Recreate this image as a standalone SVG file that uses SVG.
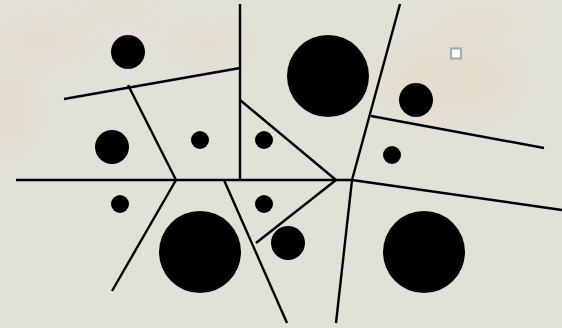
<svg xmlns="http://www.w3.org/2000/svg" width="562" height="328" viewBox="0 0 562 328">
<defs>
<style>
.l{stroke:#000;stroke-width:2.4;fill:none;stroke-linecap:butt}
.d{fill:#000}
</style>
<filter id="b" x="-50%" y="-50%" width="200%" height="200%"><feGaussianBlur stdDeviation="14"/></filter>
<filter id="s" x="-50%" y="-50%" width="200%" height="200%"><feGaussianBlur stdDeviation="0.6"/></filter>
</defs>
<rect width="562" height="328" fill="#e2e1d8"/>
<g filter="url(#b)" opacity="0.45">
<ellipse cx="40" cy="40" rx="50" ry="20" fill="#e8d7c0"/>
<ellipse cx="210" cy="45" rx="40" ry="15" fill="#e6d6bf"/>
<ellipse cx="450" cy="80" rx="70" ry="40" fill="#e6d8c2"/>
<ellipse cx="120" cy="10" rx="40" ry="10" fill="#e8d6be"/>
<ellipse cx="480" cy="20" rx="60" ry="15" fill="#e8dcc6"/>
<ellipse cx="10" cy="110" rx="20" ry="40" fill="#e6d2bb"/>
</g>
<g id="connectors">
<line class="l" x1="240" y1="4" x2="240" y2="180"/>
<line class="l" x1="64" y1="99" x2="240" y2="68"/>
<line class="l" x1="128" y1="85" x2="176" y2="180"/>
<line class="l" x1="16" y1="180" x2="352" y2="180"/>
<line class="l" x1="176" y1="180" x2="112" y2="291"/>
<line class="l" x1="224" y1="180" x2="287" y2="323"/>
<line class="l" x1="240" y1="100" x2="336" y2="180"/>
<line class="l" x1="256" y1="243" x2="336" y2="180"/>
<line class="l" x1="400" y1="4" x2="352" y2="180"/>
<line class="l" x1="352" y1="180" x2="336" y2="323"/>
<line class="l" x1="371" y1="116" x2="544" y2="148"/>
<line class="l" x1="352" y1="180" x2="562" y2="210"/>
</g>
<g id="dots">
<circle class="d" cx="128" cy="52" r="17"/>
<circle class="d" cx="112" cy="147" r="17"/>
<circle class="d" cx="200" cy="140" r="9"/>
<circle class="d" cx="264" cy="140" r="9"/>
<circle class="d" cx="328" cy="76" r="41"/>
<circle class="d" cx="416" cy="100" r="17"/>
<circle class="d" cx="392" cy="155" r="9"/>
<circle class="d" cx="120" cy="204" r="9"/>
<circle class="d" cx="200" cy="252" r="41"/>
<circle class="d" cx="264" cy="204" r="9"/>
<circle class="d" cx="288" cy="243" r="17"/>
<circle class="d" cx="424" cy="252" r="41"/>
</g>
<rect id="marker" x="451" y="48.5" width="10" height="10" fill="#fff" stroke="#aaa" stroke-width="2.2" filter="url(#s)"/>
</svg>
